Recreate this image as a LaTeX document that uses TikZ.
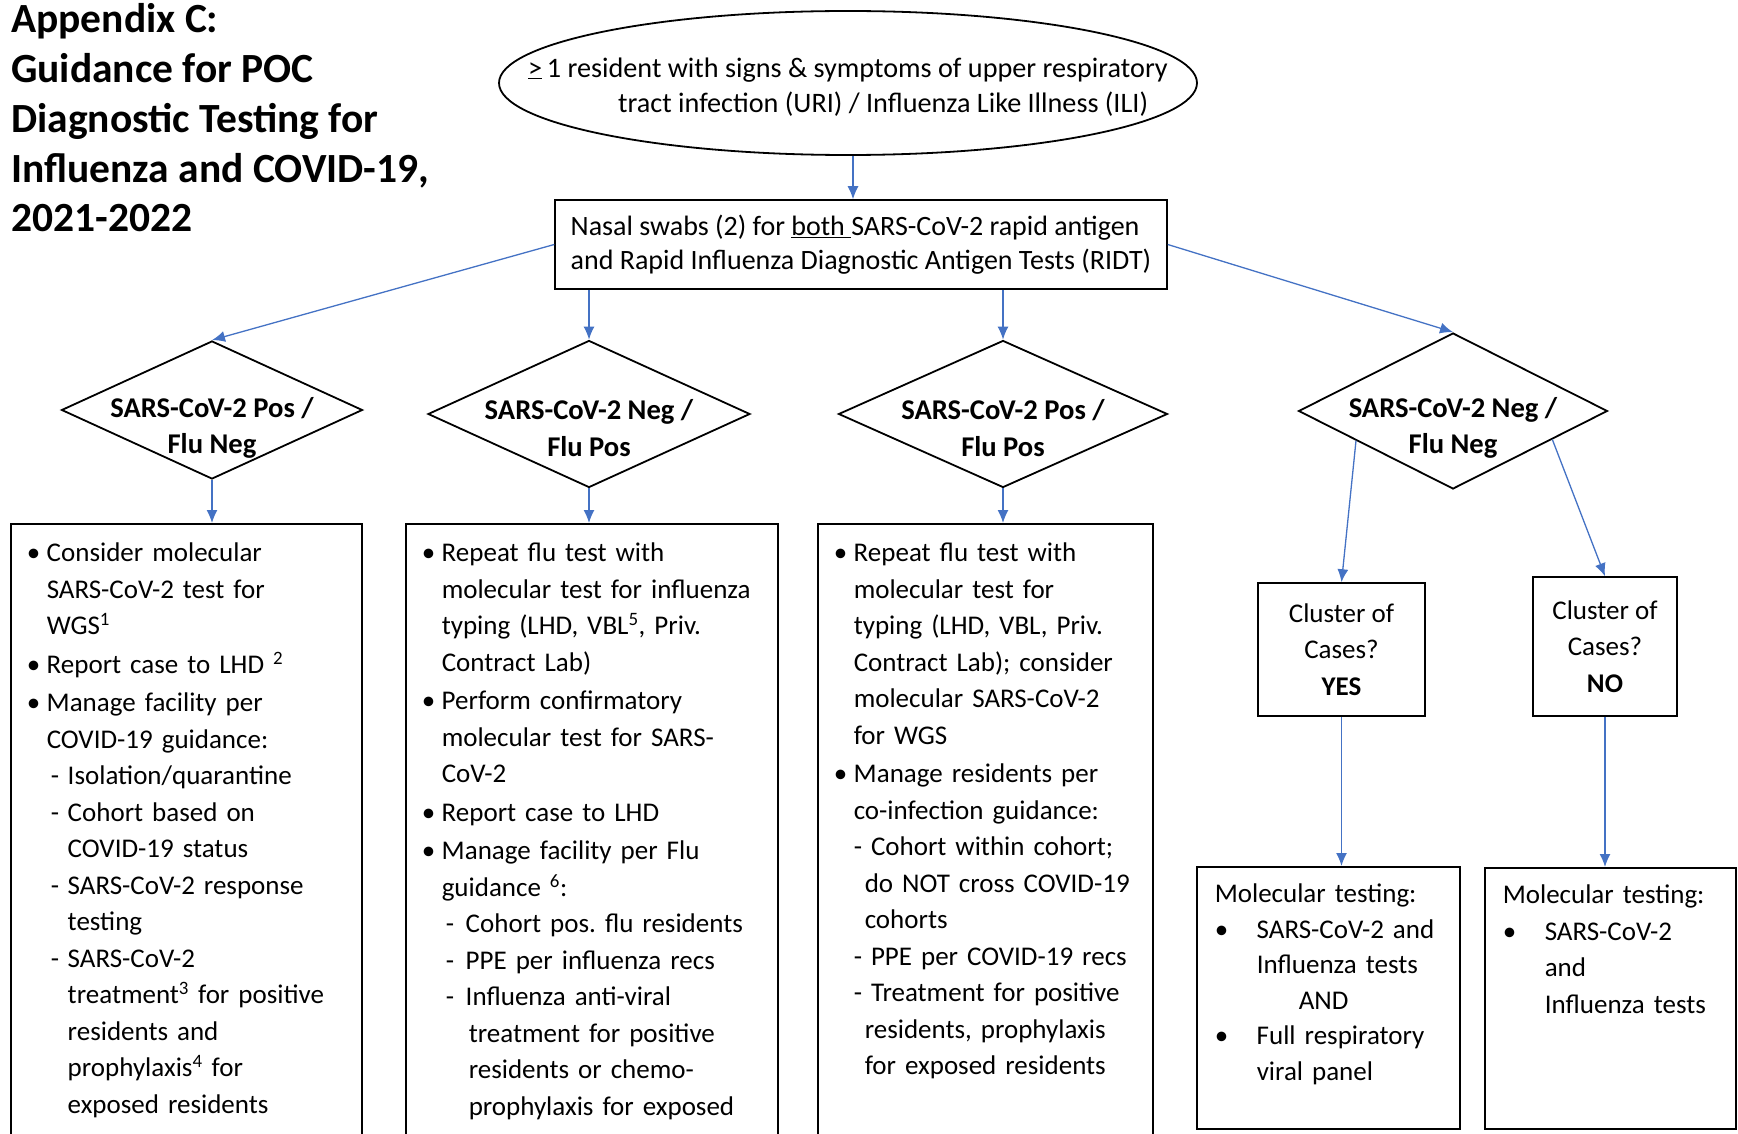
\documentclass[tikz,border=0pt]{standalone}
\usepackage{fontspec}
\setmainfont{Carlito}
\usepackage{tikz}
\usetikzlibrary{scopes,shapes.geometric,arrows.meta}
\definecolor{linkblue}{HTML}{4472C4}
\frenchspacing
\newcommand{\bul}{\makebox[15pt][l]{\hspace*{-5pt}\textbullet}}
\newcommand{\dsh}{\hspace*{19pt}\makebox[17pt][l]{-}}
\newcommand{\dshw}{\hspace*{19pt}\makebox[20pt][l]{-}}
\newcommand{\ind}[1]{\hspace*{#1pt}}
\newcommand{\molbul}{\makebox[42pt][l]{\textbullet}}

\begin{document}
\begin{tikzpicture}[
    x=1pt,y=-1pt,
    txt/.style={font=\fontsize{27}{36.5}\selectfont},
    link/.style={->,>={Latex[length=13pt,width=11pt]},draw=linkblue,line width=1.3pt},
    decide/.style={diamond,draw=black,line width=1.8pt,inner sep=0pt},
    dtext/.style={font=\fontsize{28.6}{36.5}\selectfont\bfseries,align=center,inner sep=0pt},
    body/.style={txt,rectangle,draw=black,line width=1.5pt,anchor=north west,align=left,inner xsep=21pt,inner ysep=0pt,text height=38pt,text depth=640pt},
    cluster/.style={txt,rectangle,draw=black,line width=1.5pt,align=center,inner sep=0pt},
    mol/.style={txt,rectangle,draw=black,line width=1.5pt,anchor=north west,align=left,inner xsep=18pt,inner ysep=0pt,text height=36pt},
]
    \useasboundingbox (0,0) rectangle (1738,1134);
    \clip (0,0) rectangle (1738,1134);

    \node[anchor=north west,inner sep=0pt,align=left,font=\fontsize{41.5}{49.9}\selectfont\bfseries] (title) at (11,3)
        {Appendix C:\\Guidance for POC\\Diagnostic Testing for\\Influenza and COVID-19,\\2021-2022};

    \node[ellipse,draw=black,line width=1.8pt,minimum width=698pt,minimum height=144pt] (uri) at (848,83) {};
    \node[font=\fontsize{28.2}{35.5}\selectfont,align=left,inner sep=0pt] (uritxt) at ([yshift=-4pt]uri.center)
        {\underline{>}\,1 resident with signs \& symptoms of upper respiratory\\
         \ind{90}tract infection (URI) / Influenza Like Illness (ILI)};

    \node[font=\fontsize{28}{33.5}\selectfont,draw=black,line width=1.5pt,align=left,minimum width=612pt,minimum height=89pt,inner xsep=12pt] (swab) at (861,244.5)
        {Nasal swabs (2) for \underline{both\ }SARS-CoV-2 rapid antigen\\
         and Rapid Influenza Diagnostic Antigen Tests (RIDT)};

    \node[decide,minimum width=301pt,minimum height=138pt] (pn) at (212,410) {};
    \node[dtext] (pntxt) at ([yshift=-18pt]pn.center) {SARS-CoV-2 Pos /\\Flu Neg};
    \node[decide,minimum width=322pt,minimum height=147pt] (np) at (589,414) {};
    \node[dtext] (nptxt) at ([yshift=-14pt]np.center) {SARS-CoV-2 Neg /\\Flu Pos};
    \node[decide,minimum width=329pt,minimum height=147pt] (pp) at (1003,414) {};
    \node[dtext] (pptxt) at ([yshift=-14pt]pp.center) {SARS-CoV-2 Pos /\\Flu Pos};
    \node[decide,minimum width=309pt,minimum height=156pt] (nn) at (1453,411) {};
    \node[dtext] (nntxt) at ([yshift=-17pt]nn.center) {SARS-CoV-2 Neg /\\Flu Neg};

    \node[body,text width=309pt] (posneg) at (10,523) {%
        \bul Consider molecular\\
        \ind{15}SARS-CoV-2 test for\\
        \ind{15}WGS\textsuperscript{1}\\[2pt]
        \bul Report case to LHD \textsuperscript{2}\\[2pt]
        \bul Manage facility per\\
        \ind{15}COVID-19 guidance:\\
        \dsh Isolation/quarantine\\
        \dsh Cohort based on\\
        \ind{36}COVID-19 status\\
        \dsh SARS-CoV-2 response\\
        \ind{36}testing\\
        \dsh SARS-CoV-2\\
        \ind{36}treatment\textsuperscript{3} for positive\\
        \ind{36}residents and\\
        \ind{36}prophylaxis\textsuperscript{4} for\\
        \ind{36}exposed residents};

    \node[body,text width=330pt] (negpos) at (405,523) {%
        \bul Repeat flu test with\\
        \ind{15}molecular test for influenza\\
        \ind{15}typing (LHD, VBL\textsuperscript{5}, Priv.\\
        \ind{15}Contract Lab)\\[2pt]
        \bul Perform confirmatory\\
        \ind{15}molecular test for SARS-\\
        \ind{15}CoV-2\\[2pt]
        \bul Report case to LHD\\[2pt]
        \bul Manage facility per Flu\\
        \ind{15}guidance \textsuperscript{6}:\\
        \dshw Cohort pos. flu residents\\
        \dshw PPE per influenza recs\\
        \dshw Influenza anti-viral\\
        \ind{42}treatment for positive\\
        \ind{42}residents or chemo-\\
        \ind{42}prophylaxis for exposed};

    \node[body,text width=293pt] (pospos) at (817,523) {%
        \bul Repeat flu test with\\
        \ind{15}molecular test for\\
        \ind{15}typing (LHD, VBL, Priv.\\
        \ind{15}Contract Lab); consider\\
        \ind{15}molecular SARS-CoV-2\\
        \ind{15}for WGS\\[2pt]
        \bul Manage residents per\\
        \ind{15}co-infection guidance:\\
        \ind{15}- Cohort within cohort;\\
        \ind{26}do NOT cross COVID-19\\
        \ind{26}cohorts\\
        \ind{15}- PPE per COVID-19 recs\\
        \ind{15}- Treatment for positive\\
        \ind{26}residents, prophylaxis\\
        \ind{26}for exposed residents};

    \node[cluster,minimum width=167pt,minimum height=133pt] (yes) at (1341.5,649.5) {Cluster of\\Cases?\\\textbf{YES}};
    \node[cluster,minimum width=144pt,minimum height=139pt] (no) at (1605,646.5) {Cluster of\\Cases?\\\textbf{NO}};

    \node[mol,font=\fontsize{27}{35.5}\selectfont,text width=227pt,text depth=226pt] (mola) at (1196,866) {%
        Molecular testing:\\
        \molbul SARS-CoV-2 and\\
        \ind{42}Influenza tests\\
        \ind{84}AND\\
        \molbul Full respiratory\\
        \ind{42}viral panel};
    \node[mol,text width=215pt,text depth=225pt] (molb) at (1484,867) {%
        Molecular testing:\\
        \molbul SARS-CoV-2\\
        \ind{42}and\\
        \ind{42}Influenza tests};

    {[link]
        \draw ([xshift=5pt]uri.south) -- ([xshift=5pt]uri.south |- swab.north);
        \draw (swab.west) -- (pn.north);
        \draw (np.north |- swab.south) -- (np.north);
        \draw (pp.north |- swab.south) -- (pp.north);
        \draw (swab.east) -- (nn.north);
        \draw (pn.south) -- (pn.south |- posneg.north);
        \draw (np.south) -- (np.south |- negpos.north);
        \draw (pp.south) -- (pp.south |- pospos.north);
        \draw (nn.197) -- (yes.north);
        \draw (nn.344) -- (no.north);
        \draw (yes.south) -- (yes.south |- mola.north);
        \draw (no.south) -- (no.south |- molb.north);
    }
\end{tikzpicture}
\end{document}
